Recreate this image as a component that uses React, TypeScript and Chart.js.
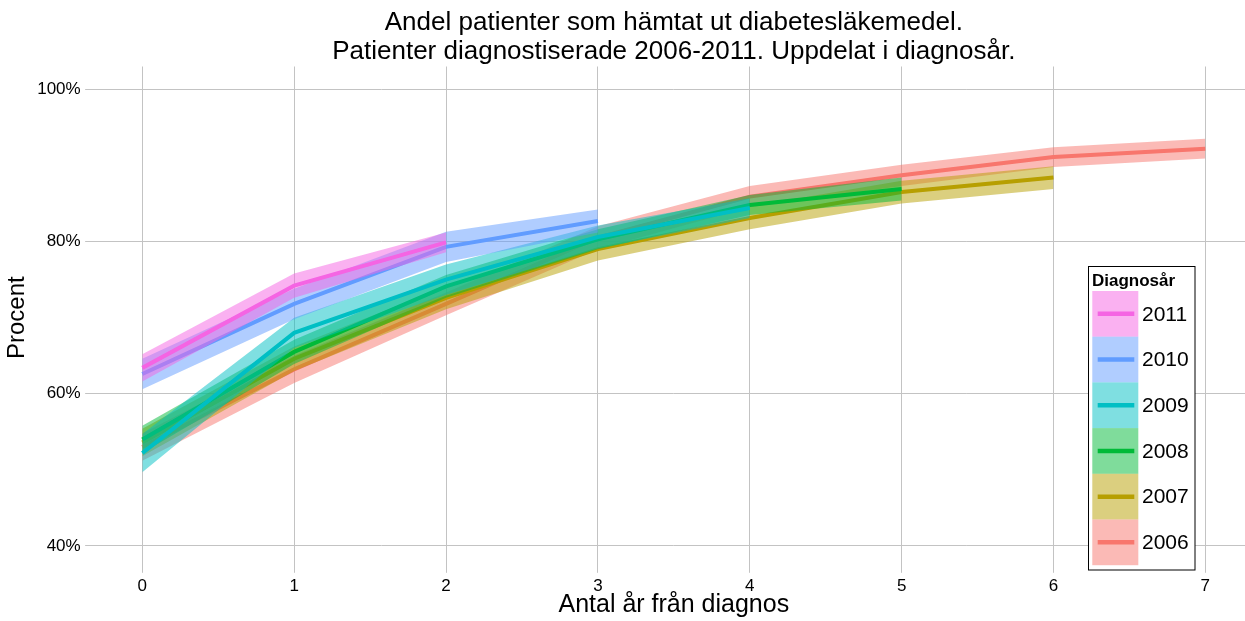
import React, { useEffect, useRef } from "react";
import { Chart, registerables } from "chart.js";

Chart.register(...registerables);

// ---- data ----
const titleLines = [
  "Andel patienter som hämtat ut diabetesläkemedel.",
  "Patienter diagnostiserade 2006-2011. Uppdelat i diagnosår.",
];
const xTitle = "Antal år från diagnos";
const yTitle = "Procent";
const legendTitle = "Diagnosår";

const yearsFromDiagnosis = [0, 1, 2, 3, 4, 5, 6, 7];
const yTickValues = [40, 60, 80, 100];

const seriesNames = ["2011", "2010", "2009", "2008", "2007", "2006"];
const seriesColors = ["#F564E3", "#619CFF", "#00BFC4", "#00BA38", "#B79F00", "#F8766D"];

const v2011 = [63.4, 74.2, 79.9];
const e2011 = [1.8, 1.6, 1.3];
const v2010 = [62.6, 71.8, 79.3, 82.7];
const e2010 = [2.0, 2.0, 2.0, 1.5];
const v2009 = [52.2, 68.0, 75.0, 80.6, 84.4];
const e2009 = [2.5, 2.0, 2.0, 1.5, 1.3];
const v2008 = [54.0, 65.5, 74.1, 80.3, 84.8, 86.9];
const e2008 = [1.8, 1.6, 1.5, 1.3, 1.3, 1.5];
const v2007 = [53.6, 64.6, 72.6, 79.0, 83.1, 86.5, 88.4];
const e2007 = [1.8, 1.6, 1.5, 1.5, 1.5, 1.5, 1.5];
const v2006 = [53.0, 63.2, 71.8, 80.5, 85.9, 88.7, 91.1, 92.2];
const e2006 = [1.8, 1.8, 1.5, 1.5, 1.4, 1.4, 1.3, 1.3];

const seriesValues = [v2011, v2010, v2009, v2008, v2007, v2006];
const seriesErrors = [e2011, e2010, e2009, e2008, e2007, e2006];

const FONT = "'Liberation Sans', Arial, sans-serif";

function hexToRgba(hex: string, a: number) {
  const n = parseInt(hex.slice(1), 16);
  return `rgba(${(n >> 16) & 255},${(n >> 8) & 255},${n & 255},${a})`;
}

const decorPlugin = {
  id: "decor",
  afterDraw(chart: any) {
    const ctx = chart.ctx;
    const area = chart.chartArea;
    ctx.save();
    // title
    ctx.fillStyle = "#000";
    ctx.font = `26px ${FONT}`;
    ctx.textAlign = "center";
    ctx.textBaseline = "middle";
    const cx = (area.left + area.right) / 2;
    ctx.fillText(titleLines[0], cx, 23);
    ctx.fillText(titleLines[1], cx, 52);

    // legend
    const bx = 1088.5, by = 266.5, bw = 106.5, bh = 303.5;
    ctx.fillStyle = "#fff";
    ctx.fillRect(bx, by, bw, bh);
    ctx.strokeStyle = "#000";
    ctx.lineWidth = 1;
    ctx.strokeRect(bx, by, bw, bh);
    ctx.fillStyle = "#000";
    ctx.textAlign = "left";
    ctx.textBaseline = "alphabetic";
    ctx.font = `bold 17px ${FONT}`;
    ctx.fillText(legendTitle, 1092, 285.5);
    const keyH = 45.7;
    seriesNames.forEach((name, i) => {
      const y0 = 291 + i * keyH;
      ctx.fillStyle = hexToRgba(seriesColors[i], 0.5);
      ctx.fillRect(1092.3, y0, 46, keyH);
      ctx.strokeStyle = seriesColors[i];
      ctx.lineWidth = 4.5;
      ctx.beginPath();
      ctx.moveTo(1097.7, y0 + keyH / 2);
      ctx.lineTo(1134.3, y0 + keyH / 2);
      ctx.stroke();
      ctx.fillStyle = "#000";
      ctx.font = `21px ${FONT}`;
      ctx.textBaseline = "middle";
      ctx.fillText(name, 1142, y0 + keyH / 2 + 1);
    });
    ctx.restore();
  },
};

export default function App() {
  const ref = useRef<HTMLCanvasElement | null>(null);

  useEffect(() => {
    if (!ref.current) return;
    const datasets: any[] = [];
    // per group: ribbon drawn first, then its line; 2006 drawn first, 2011 last
    seriesNames.forEach((name, i) => {
      const vals = seriesValues[i];
      const errs = seriesErrors[i];
      datasets.push({
        label: name,
        data: vals.map((v, k) => ({ x: yearsFromDiagnosis[k], y: v })),
        borderColor: seriesColors[i],
        borderWidth: 4,
        pointRadius: 0,
        fill: false,
        tension: 0,
        order: 2 * i,
      });
      datasets.push({
        label: name + " upper",
        data: vals.map((v, k) => ({ x: yearsFromDiagnosis[k], y: v + errs[k] })),
        borderWidth: 0,
        borderColor: "rgba(0,0,0,0)",
        backgroundColor: hexToRgba(seriesColors[i], 0.5),
        pointRadius: 0,
        fill: "+1",
        tension: 0,
        order: 2 * i + 1,
      });
      datasets.push({
        label: name + " lower",
        data: vals.map((v, k) => ({ x: yearsFromDiagnosis[k], y: v - errs[k] })),
        borderWidth: 0,
        borderColor: "rgba(0,0,0,0)",
        pointRadius: 0,
        fill: false,
        tension: 0,
        order: 2 * i + 1,
      });
    });

    const gridColor = "rgb(195,195,195)";
    const chart = new Chart(ref.current, {
      type: "line",
      data: { datasets },
      plugins: [decorPlugin],
      options: {
        animation: false,
        responsive: true,
        maintainAspectRatio: false,
        layout: { padding: { top: 66.5, right: 3.5, left: 0, bottom: 0 } },
        plugins: {
          legend: { display: false },
          title: { display: false },
          tooltip: { enabled: false },
        },
        scales: {
          x: {
            type: "linear",
            min: -0.35,
            max: 7.35,
            afterBuildTicks: (s: any) => {
              s.ticks = yearsFromDiagnosis.map((v) => ({ value: v }));
            },
            afterFit: (s: any) => {
              s.height = 52.2;
            },
            grid: { color: gridColor, lineWidth: 1, tickLength: 4, drawTicks: true },
            border: { display: false },
            ticks: {
              color: "#000",
              font: { family: FONT, size: 17 },
              padding: 3,
              maxRotation: 0,
              autoSkip: false,
              callback: (v: any) => String(v),
            },
            title: {
              display: true,
              text: xTitle,
              color: "#000",
              font: { family: FONT, size: 25 },
              padding: { top: 0, bottom: 1 },
            },
          },
          y: {
            type: "linear",
            min: 37,
            max: 103,
            afterBuildTicks: (s: any) => {
              s.ticks = yTickValues.map((v) => ({ value: v }));
            },
            afterFit: (s: any) => {
              s.width = 89.15;
            },
            grid: { color: gridColor, lineWidth: 1, tickLength: 4, drawTicks: true },
            border: { display: false },
            ticks: {
              color: "#000",
              font: { family: FONT, size: 17 },
              padding: 4.5,
              callback: (v: any) => v + "%",
            },
            title: {
              display: true,
              text: yTitle,
              color: "#000",
              font: { family: FONT, size: 24 },
              padding: { top: 3, bottom: 0 },
            },
          },
        },
      },
    });
    return () => chart.destroy();
  }, []);

  return (
    <div style={{ position: "fixed", left: 0, top: 0, width: 1245, height: 621, overflow: "hidden", background: "#fff" }}>
      <div style={{ position: "absolute", left: 0, top: 0, width: 1262, height: 621 }}>
        <canvas ref={ref} />
      </div>
    </div>
  );
}
